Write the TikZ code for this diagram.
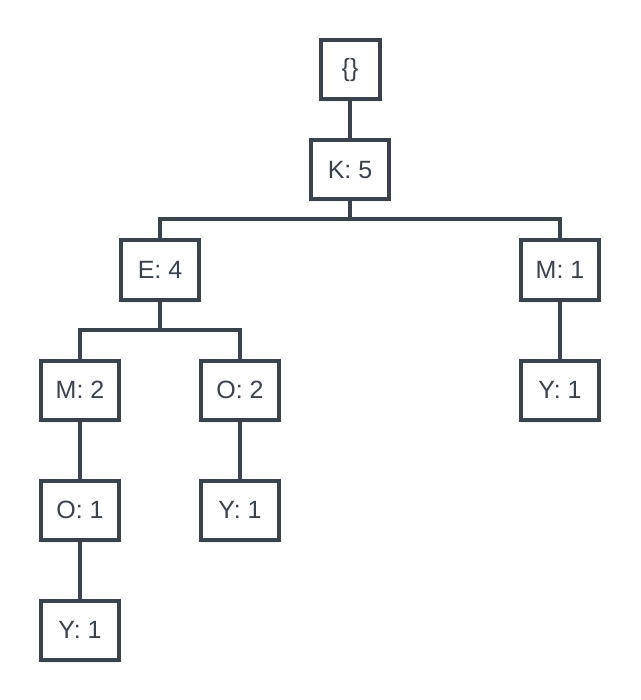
\documentclass[tikz,border=0pt]{standalone}
\usepackage{fontspec}
\setmainfont{Liberation Sans}
\usetikzlibrary{shadows}
\definecolor{ink}{HTML}{3A424D}
\definecolor{txt}{HTML}{3A424D}
\begin{document}
\begin{tikzpicture}[x=1pt,y=-1pt,
  box/.style={draw=ink, line width=4pt, fill=white, minimum width=78pt, minimum height=59pt,
    inner sep=0pt, text=txt, font=\fontsize{25}{30}\selectfont,
    drop shadow={opacity=0.10, shadow xshift=0pt, shadow yshift=-3pt}},
  link/.style={draw=ink, line width=4pt}]
\useasboundingbox (0,0) rectangle (640,700);
\node[box, minimum width=59pt] (root) at (350,70) {\{\}};
\node[box] (K) at (350,170) {K: 5};
\node[box] (E) at (160,270) {E: 4};
\node[box] (M1) at (560,270) {M: 1};
\node[box] (M2) at (80,390) {M: 2};
\node[box] (O2) at (240,390) {O: 2};
\node[box] (Y3) at (560,390) {Y: 1};
\node[box] (O1) at (80,510) {O: 1};
\node[box] (Y2) at (240,510) {Y: 1};
\node[box] (Y1) at (80,630) {Y: 1};
\draw[link] (root.south) -- (K.north);
\draw[link] (K.south) -- ++(0,18) -| (E.north);
\draw[link] (K.south) -- ++(0,18) -| (M1.north);
\draw[link] (E.south) -- ++(0,28) -| (M2.north);
\draw[link] (E.south) -- ++(0,28) -| (O2.north);
\draw[link] (M1.south) -- (Y3.north);
\draw[link] (M2.south) -- (O1.north);
\draw[link] (O2.south) -- (Y2.north);
\draw[link] (O1.south) -- (Y1.north);
\end{tikzpicture}
\end{document}
